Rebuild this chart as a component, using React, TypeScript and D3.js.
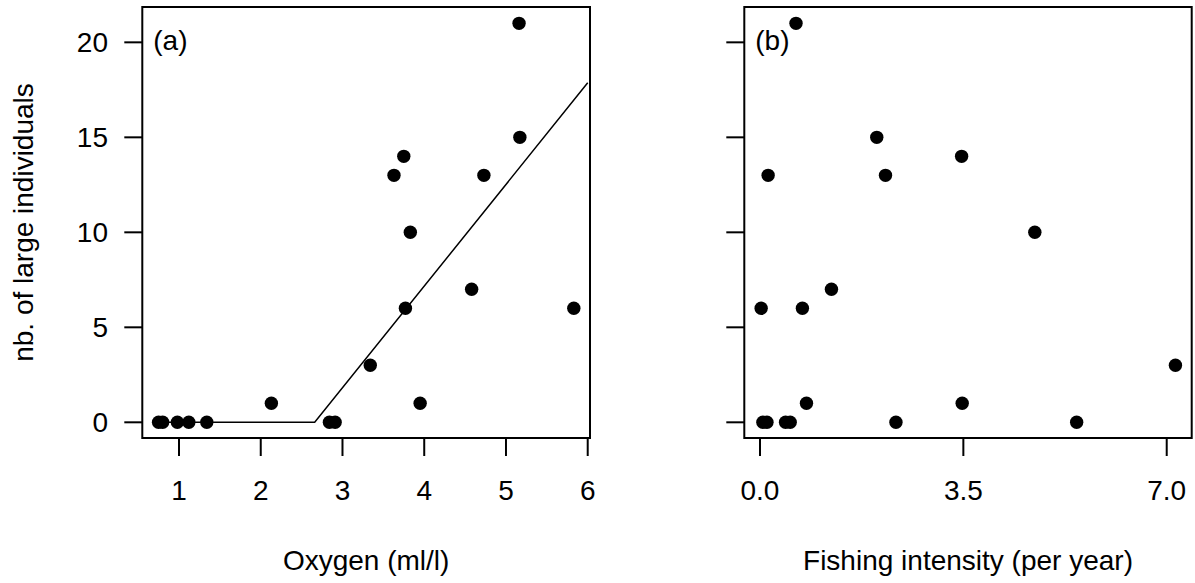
import * as d3 from 'd3';

// panel (a): oxygen vs count
const oxygen = [0.75, 0.8, 0.98, 1.12, 1.34, 2.13, 2.84, 2.91, 3.34, 3.63, 3.75, 3.83, 3.77, 3.95, 4.58, 4.73, 5.16, 5.17, 5.83];
const countA = [0, 0, 0, 0, 0, 1, 0, 0, 3, 13, 14, 10, 6, 1, 7, 13, 21, 15, 6];

// broken-stick fit
const fitX = [0.75, 2.66, 6.0];
const fitY = [0, 0, 17.87];

// panel (b): fishing intensity vs count
const fishing = [0.62, 0.14, 0.02, 0.05, 0.12, 0.44, 0.52, 0.73, 0.8, 1.23, 2.01, 2.16, 2.34, 3.47, 3.48, 4.73, 5.45, 7.15];
const countB = [21, 13, 6, 0, 0, 0, 0, 6, 1, 7, 15, 13, 0, 14, 1, 10, 0, 3];

const yTicks = [0, 5, 10, 15, 20];
const xTicksA = [1, 2, 3, 4, 5, 6];
const xTicksB = [0, 3.5, 7];

const FONT = '"Liberation Sans", Arial, sans-serif';
const FS = 28;
const TOP = 7;
const BOTTOM = 438;

const y = d3.scaleLinear().domain([-0.826, 21.86]).range([BOTTOM, TOP]);

type PanelProps = {
  x: d3.ScaleLinear<number, number>;
  xs: number[];
  ys: number[];
  xTicks: number[];
  fmt: (v: number) => string;
  tag: string;
  title: string;
  yLabels: boolean;
  fit?: { xs: number[]; ys: number[] };
};

const Panel = ({ x, xs, ys, xTicks, fmt, tag, title, yLabels, fit }: PanelProps) => {
  const [left, right] = x.range();
  const line = d3.line<number>().x((d) => x(d)).y((_, i) => y(fit ? fit.ys[i] : 0));
  return (
    <g>
      {fit && <path d={line(fit.xs) || ''} fill="none" stroke="#000" strokeWidth={1.5} />}
      {xs.map((v, i) => (
        <circle key={i} cx={x(v)} cy={y(ys[i])} r={6.7} fill="#000" />
      ))}
      <rect x={left} y={TOP} width={right - left} height={BOTTOM - TOP} fill="none" stroke="#000" strokeWidth={2} />
      {yTicks.map((t) => (
        <g key={t}>
          <line x1={left - 18} x2={left} y1={y(t)} y2={y(t)} stroke="#000" strokeWidth={2} />
          {yLabels && (
            <text x={108} y={y(t)} dy="0.36em" textAnchor="end" fontSize={FS} fontFamily={FONT}>
              {t}
            </text>
          )}
        </g>
      ))}
      {xTicks.map((t) => (
        <g key={t}>
          <line x1={x(t)} x2={x(t)} y1={BOTTOM} y2={BOTTOM + 18} stroke="#000" strokeWidth={2} />
          <text x={x(t)} y={500} textAnchor="middle" fontSize={FS} fontFamily={FONT}>
            {fmt(t)}
          </text>
        </g>
      ))}
      <text x={(left + right) / 2} y={570} textAnchor="middle" fontSize={FS} fontFamily={FONT}>
        {title}
      </text>
      <text x={left + 11} y={50} fontSize={FS} fontFamily={FONT}>
        {tag}
      </text>
    </g>
  );
};

export default function App() {
  const xA = d3.scaleLinear().domain([0.551, 6.028]).range([142.3, 590]);
  const xB = d3.scaleLinear().domain([-0.27, 7.43]).range([744.3, 1191.7]);
  return (
    <svg width={1195} height={583} style={{ position: 'absolute', left: 0, top: 0, background: '#fff' }}>
      <text
        transform={`translate(33,${(TOP + BOTTOM) / 2}) rotate(-90)`}
        textAnchor="middle"
        fontSize={FS}
        fontFamily={FONT}
      >
        nb. of large individuals
      </text>
      <Panel
        x={xA}
        xs={oxygen}
        ys={countA}
        xTicks={xTicksA}
        fmt={(v) => String(v)}
        tag="(a)"
        title="Oxygen (ml/l)"
        yLabels
        fit={{ xs: fitX, ys: fitY }}
      />
      <Panel
        x={xB}
        xs={fishing}
        ys={countB}
        xTicks={xTicksB}
        fmt={(v) => v.toFixed(1)}
        tag="(b)"
        title="Fishing intensity (per year)"
        yLabels={false}
      />
    </svg>
  );
}
